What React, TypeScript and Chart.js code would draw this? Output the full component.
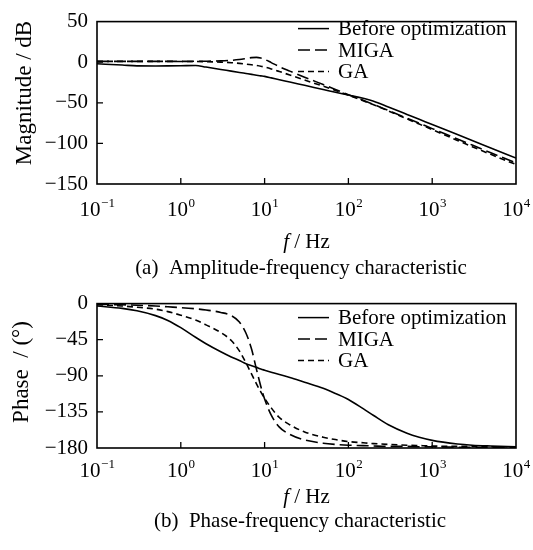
import React, { useEffect, useRef } from 'react';
import { Chart, registerables } from 'chart.js';

Chart.register(...registerables);

const FONT = "'Liberation Serif', 'Times New Roman', serif";

// Frequencies (Hz)
const freqs = [0.1, 0.2, 0.3, 0.5, 0.7, 1, 1.5, 2, 3, 4, 5, 6, 7, 8, 9, 10, 12, 15, 20, 30, 50, 70, 100, 150, 200, 300, 500, 700, 1000, 2000, 3000, 5000, 10000];

// Magnitude (dB)
const magBefore = [-2, -3.5, -4.5, -4.6, -4.5, -4.3, -4, -6, -8.9, -11, -12.6, -13.9, -15, -16, -16.8, -17.5, -19.3, -21.6, -24.4, -28.5, -33.6, -37, -40.5, -44.5, -48, -55.2, -64.3, -70.3, -76.7, -89, -96.3, -105.6, -118];
const magMIGA = [1, 1, 1, 1, 1, 1, 1.1, 1.2, 1.6, 2.3, 3.3, 4.5, 5.6, 6, 5.2, 3.5, -0.5, -5.5, -11, -18.5, -27.5, -33.5, -40, -47, -52, -59.5, -69, -75.2, -81.8, -94.5, -102, -111.5, -124];
const magGA = [1, 1, 1, 1, 1, 0.9, 0.8, 0.6, 0.1, -0.6, -1.4, -2.3, -3.2, -4.1, -5, -6, -8.3, -11.5, -15.8, -22, -29.5, -34.8, -40.5, -47.5, -52.5, -60, -69.8, -76.2, -83, -96.3, -104, -113.5, -126];

// Phase (deg)
const phBefore = [-3, -6, -9, -15, -21, -30, -42, -50, -60, -66.5, -71, -75, -77.5, -79.5, -81.5, -83, -85.5, -88.5, -92, -98, -105.5, -112, -119.5, -131, -139.5, -151, -161.5, -166.5, -170.5, -175, -176.5, -177.5, -178.5];
const phMIGA = [-1, -1.5, -2, -3, -4, -5, -6.5, -8, -11, -15, -23, -37, -57, -82, -103, -119, -139, -154, -163, -170, -174, -175.5, -176.5, -177, -177.5, -178, -178, -178.5, -178.5, -179, -179, -179, -179];
const phGA = [-1.5, -3, -4.5, -7, -10, -14.5, -20.5, -26.5, -36, -46, -59, -74, -88, -100, -110, -118, -130, -142, -151, -160, -166.5, -169.5, -172, -173.5, -174.5, -175.5, -176.5, -177, -177.5, -178, -178, -178.5, -178.5];

const seriesNames = ['Before optimization', 'MIGA', 'GA'];
const seriesDash: number[][] = [[], [12, 5], [6, 4]];

const xTickValues = [0.1, 1, 10, 100, 1000, 10000];
const xTickExponents = ['\u22121', '0', '1', '2', '3', '4'];
const magTicks = [50, 0, -50, -100, -150];
const phaseTicks = [0, -45, -90, -135, -180];

type Decor = {
  yTitle: string;
  yTitleX: number;
  yTitleY: number;
  tickBaseline: number;
  xTitleY: number;
  caption: string;
  captionX: number;
  captionY: number;
  legendY0: number;
  yTicks: number[];
};

function makeDecor(d: Decor) {
  return {
    id: 'decor',
    afterDraw(chart: any) {
      const { ctx, chartArea: a, scales } = chart;
      const xs = scales.x;
      const ys = scales.y;
      ctx.save();
      ctx.strokeStyle = '#000';
      ctx.fillStyle = '#000';
      ctx.setLineDash([]);
      // frame
      ctx.lineWidth = 1.6;
      ctx.strokeRect(a.left, a.top, a.right - a.left, a.bottom - a.top);
      // inward ticks
      ctx.lineWidth = 1.3;
      ctx.beginPath();
      xTickValues.forEach((v) => {
        const px = xs.getPixelForValue(v);
        if (px > a.left + 2 && px < a.right - 2) {
          ctx.moveTo(px, a.bottom);
          ctx.lineTo(px, a.bottom - 6);
        }
      });
      d.yTicks.forEach((v) => {
        const py = ys.getPixelForValue(v);
        if (py > a.top + 2 && py < a.bottom - 2) {
          ctx.moveTo(a.left, py);
          ctx.lineTo(a.left + 6, py);
        }
      });
      ctx.stroke();
      // x tick labels with superscripts
      ctx.textBaseline = 'alphabetic';
      ctx.textAlign = 'left';
      xTickValues.forEach((v, i) => {
        const px = xs.getPixelForValue(v);
        ctx.font = `21px ${FONT}`;
        const wb = ctx.measureText('10').width;
        ctx.font = `13px ${FONT}`;
        const we = ctx.measureText(xTickExponents[i]).width;
        const x0 = px - (wb + we) / 2;
        ctx.font = `21px ${FONT}`;
        ctx.fillText('10', x0, d.tickBaseline);
        ctx.font = `13px ${FONT}`;
        ctx.fillText(xTickExponents[i], x0 + wb + 0.5, d.tickBaseline - 9);
      });
      // x title: italic f / Hz
      ctx.font = `italic 21px ${FONT}`;
      const wf = ctx.measureText('f').width;
      ctx.font = `21px ${FONT}`;
      const wr = ctx.measureText(' / Hz').width;
      const cx = (a.left + a.right) / 2;
      const tx = cx - (wf + wr) / 2;
      ctx.textBaseline = 'middle';
      ctx.font = `italic 21px ${FONT}`;
      ctx.fillText('f', tx, d.xTitleY);
      ctx.font = `21px ${FONT}`;
      ctx.fillText(' / Hz', tx + wf, d.xTitleY);
      // caption
      ctx.textAlign = 'center';
      ctx.font = `21px ${FONT}`;
      ctx.fillText(d.caption, d.captionX, d.captionY);
      // y title
      ctx.save();
      ctx.translate(d.yTitleX, d.yTitleY);
      ctx.rotate(-Math.PI / 2);
      ctx.font = `23px ${FONT}`;
      ctx.textAlign = 'center';
      ctx.textBaseline = 'middle';
      ctx.fillText(d.yTitle, 0, 0);
      ctx.restore();
      // legend
      ctx.font = `21px ${FONT}`;
      ctx.textAlign = 'left';
      ctx.textBaseline = 'middle';
      chart.data.datasets.forEach((ds: any, i: number) => {
        const y = a.top + d.legendY0 + i * 21.5;
        ctx.save();
        ctx.lineWidth = 1.5;
        ctx.setLineDash(ds.borderDash || []);
        ctx.beginPath();
        ctx.moveTo(298, y);
        ctx.lineTo(329, y);
        ctx.stroke();
        ctx.restore();
        ctx.fillText(ds.label, 338, y + 1);
      });
      ctx.restore();
    },
  };
}

type ChartProps = {
  height: number;
  top: number;
  bottom: number;
  yMin: number;
  yMax: number;
  series: number[][];
  decor: Decor;
};

function BodeChart({ height, top, bottom, yMin, yMax, series, decor }: ChartProps) {
  const ref = useRef<HTMLCanvasElement>(null);
  useEffect(() => {
    Chart.defaults.font.family = FONT;
    const datasets = series.map((vals, i) => ({
      label: seriesNames[i],
      data: freqs.map((f, j) => ({ x: f, y: vals[j] })),
      borderColor: '#000',
      backgroundColor: '#000',
      borderWidth: 1.6,
      borderDash: seriesDash[i],
      pointRadius: 0,
      fill: false,
      cubicInterpolationMode: 'monotone' as const,
    }));
    const chart = new Chart(ref.current!, {
      type: 'line',
      data: { datasets },
      options: {
        responsive: false,
        animation: false,
        devicePixelRatio: 1,
        layout: { padding: { top, right: 17, left: 0, bottom: 0 } },
        plugins: { legend: { display: false }, tooltip: { enabled: false } },
        scales: {
          x: {
            type: 'logarithmic',
            min: 0.1,
            max: 10000,
            grid: { display: false, drawTicks: false },
            border: { display: false },
            ticks: { display: false },
            afterBuildTicks: (s: any) => {
              s.ticks = xTickValues.map((v) => ({ value: v }));
            },
            afterFit: (s: any) => {
              s.height = height - bottom;
            },
          },
          y: {
            type: 'linear',
            min: yMin,
            max: yMax,
            grid: { display: false, drawTicks: false },
            border: { display: false },
            ticks: {
              color: '#000',
              padding: 9,
              font: { family: FONT, size: 21 },
              callback: (v: any) => (Number(v) < 0 ? '\u2212' + Math.abs(Number(v)) : String(v)),
            },
            afterBuildTicks: (s: any) => {
              s.ticks = decor.yTicks.map((v) => ({ value: v }));
            },
            afterFit: (s: any) => {
              s.width = 97;
            },
          },
        },
      },
      plugins: [makeDecor(decor)],
    });
    return () => chart.destroy();
  }, []);
  return <canvas ref={ref} width={533} height={height} style={{ display: 'block', width: 533, height }} />;
}

export default function App() {
  return (
    <div style={{ position: 'absolute', left: 0, top: 0, width: 533, height: 550, background: '#fff' }}>
      <BodeChart
        height={282}
        top={14}
        bottom={184}
        yMin={-150}
        yMax={50}
        series={[magBefore, magMIGA, magGA]}
        decor={{
          yTitle: 'Magnitude / dB',
          yTitleX: 25,
          yTitleY: 93,
          tickBaseline: 216,
          xTitleY: 242,
          caption: '(a)  Amplitude-frequency characteristic',
          captionX: 301,
          captionY: 268,
          legendY0: 7,
          yTicks: magTicks,
        }}
      />
      <BodeChart
        height={268}
        top={14}
        bottom={166}
        yMin={-180}
        yMax={0}
        series={[phBefore, phMIGA, phGA]}
        decor={{
          yTitle: 'Phase  / (\u00b0)',
          yTitleX: 22,
          yTitleY: 90,
          tickBaseline: 195,
          xTitleY: 215,
          caption: '(b)  Phase-frequency characteristic',
          captionX: 300,
          captionY: 239,
          legendY0: 14,
          yTicks: phaseTicks,
        }}
      />
    </div>
  );
}
